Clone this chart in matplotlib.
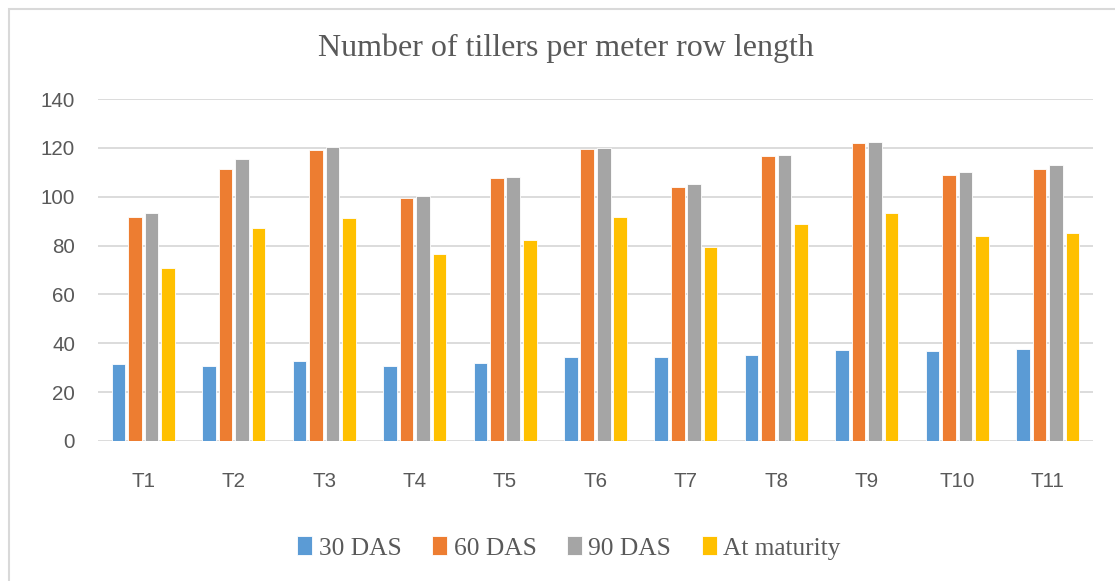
import matplotlib
matplotlib.use("Agg")
import matplotlib.pyplot as plt
import numpy as np
from matplotlib.patches import Rectangle

categories = ["T1", "T2", "T3", "T4", "T5", "T6", "T7", "T8", "T9", "T10", "T11"]
das30 = [31.4, 30.7, 32.9, 30.8, 31.8, 34.2, 34.2, 35.3, 37.2, 37.0, 37.5]
das60 = [91.8, 111.5, 119.0, 99.5, 107.8, 119.4, 104.1, 116.5, 122.0, 109.0, 111.2]
das90 = [93.2, 115.3, 120.2, 100.3, 108.2, 120.1, 105.3, 117.2, 122.6, 110.2, 113.0]
maturity = [70.9, 87.3, 91.4, 76.5, 82.3, 91.5, 79.4, 88.7, 93.2, 83.8, 85.1]
series_names = ["30 DAS", "60 DAS", "90 DAS", "At maturity"]
yticks = [0, 20, 40, 60, 80, 100, 120, 140]

colors = ["#5B9BD5", "#ED7D31", "#A5A5A5", "#FFC000"]
text_col = "#595959"

fig = plt.figure(figsize=(11.15, 5.81), dpi=100)
W, H = 1115, 581
ax = fig.add_axes([98 / W, 1 - 441 / H, (1093 - 98) / W, (441 - 99) / H])

x = np.arange(len(categories))
step = 0.182
width = 0.15
all_series = [das30, das60, das90, maturity]
for i, (vals, c, name) in enumerate(zip(all_series, colors, series_names)):
    ax.bar(x + (i - 1.5) * step, vals, width=width, color=c, label=name,
           edgecolor="white", linewidth=0.6, zorder=3)

ax.set_xlim(-0.5, len(categories) - 0.5)
ax.set_ylim(0, 140)
ax.set_yticks(yticks)
ax.set_xticks(x)
ax.set_xticklabels(categories)
ax.grid(axis="y", color="#D9D9D9", linewidth=1.3, zorder=0)
for s in ax.spines.values():
    s.set_visible(False)
ax.tick_params(axis="both", length=0, labelsize=14.8, colors=text_col)
ax.tick_params(axis="y", pad=16.5)
ax.tick_params(axis="x", pad=22.5)
for lab in ax.get_xticklabels() + ax.get_yticklabels():
    lab.set_fontfamily("Liberation Sans")

fig.text(566 / W, 1 - 48 / H, "Number of tillers per meter row length",
         ha="center", va="center", fontsize=23, color=text_col,
         fontfamily="Liberation Serif")

leg = fig.legend(loc="center", bbox_to_anchor=(569 / W, 1 - 548 / H), ncol=4,
                 frameon=False, prop={"family": "Liberation Serif", "size": 18.3},
                 handlelength=0.6, handleheight=0.75, handletextpad=0.25,
                 columnspacing=1.2, labelcolor=text_col)

# outer chart border (right and bottom edges fall outside the picture)
fig.patches.append(Rectangle((9 / W, -0.05), 1.1, 1.05 - 9 / H, transform=fig.transFigure,
                             fill=False, edgecolor="#D9D9D9", linewidth=1.5))

fig.savefig("out.png", dpi=100)
